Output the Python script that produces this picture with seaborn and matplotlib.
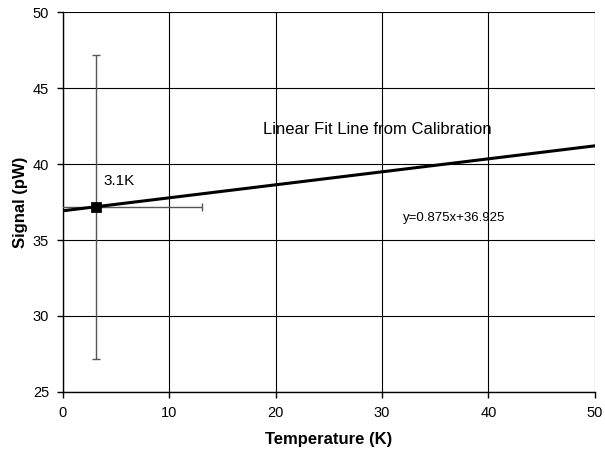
import numpy as np
import pandas as pd
import matplotlib
matplotlib.use('Agg')
import matplotlib.pyplot as plt
import seaborn as sns

# calibration fit line
fit_x = [0, 50]
fit_slope = 0.0855
fit_icpt = 36.925
fit_y = [fit_slope * v + fit_icpt for v in fit_x]

# measured point with error bars
pt_x = [3.1]
pt_y = [37.2]
pt_xerr = [10]
pt_yerr = [10]

sns.set_theme(style='white')
plt.rcParams['font.family'] = ['Liberation Sans', 'DejaVu Sans']
plt.rcParams['text.color'] = 'black'
plt.rcParams['axes.labelcolor'] = 'black'

fig, ax = plt.subplots(figsize=(6.05, 4.5), dpi=100)
fig.subplots_adjust(left=0.104, right=0.983, top=0.973, bottom=0.129)

ax.errorbar(pt_x, pt_y, xerr=pt_xerr, yerr=pt_yerr, fmt='none',
            ecolor='#555555', elinewidth=1, capsize=3, capthick=1, zorder=3)
sns.lineplot(x=fit_x, y=fit_y, ax=ax, color='black', linewidth=2.2, zorder=4)
sns.scatterplot(x=pt_x, y=pt_y, ax=ax, marker='s', color='black', s=45,
                edgecolor='black', zorder=5)

ax.set_xlim(0, 50)
ax.set_ylim(25, 50)
ax.set_xticks(range(0, 51, 10))
ax.set_yticks(range(25, 51, 5))
ax.grid(True, color='black', linewidth=0.8)
ax.set_axisbelow(True)
for side in ['top', 'right']:
    ax.spines[side].set_visible(False)
for side in ['left', 'bottom']:
    ax.spines[side].set_color('black')
    ax.spines[side].set_linewidth(1)
ax.tick_params(axis='both', direction='out', length=4, width=1, color='black',
               labelsize=10.5, labelcolor='black', bottom=True, left=True, pad=6)

ax.set_xlabel('Temperature (K)', fontsize=12, fontweight='bold', labelpad=9)
ax.set_ylabel('Signal (pW)', fontsize=12, fontweight='bold', labelpad=3)

ax.text(3.8, 38.6, '3.1K', fontsize=11)
ax.text(18.8, 42.0, 'Linear Fit Line from Calibration', fontsize=12)
ax.text(32.0, 36.25, 'y=0.875x+36.925', fontsize=9.5)

fig.savefig('out.png', dpi=100, facecolor='white')
